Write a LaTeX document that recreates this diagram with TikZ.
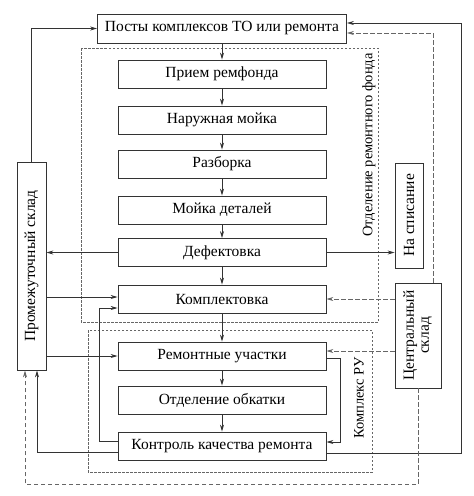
\documentclass[tikz,border=0pt]{standalone}
\usepackage{fontspec}
\setmainfont{Liberation Serif}
\usetikzlibrary{calc,arrows.meta}

\begin{document}
\begin{tikzpicture}[x=1pt,y=-1pt,font=\fontsize{15.5}{17}\selectfont,line width=0.8pt]
\tikzset{
% boxes of the repair flow and side boxes
stage/.style={draw=black!80,minimum width=208pt,minimum height=28pt,inner sep=0pt},
sidebox/.style={draw=black!80,inner sep=0pt},
zone/.style={draw=black!60,dash pattern=on 2.5pt off 1.5pt},
flow/.style={draw=black!80,-{Stealth[length=7pt,width=4pt]}},
dflow/.style={draw=black!60,dash pattern=on 4.5pt off 2.5pt,-{Stealth[length=7pt,width=4pt]}}
}
\useasboundingbox (0,0) rectangle (474,496);

% dashed departments
\draw[zone] (81,48) rectangle (378,322);
\draw[zone] (88,330) rectangle (372,472);
\node(zf)[rotate=90,font=\fontsize{14.5}{16}\selectfont] at (369,145) {Отделение ремонтного фонда};
\node(zr)[rotate=90,font=\fontsize{14.5}{16}\selectfont] at (359,398) {Комплекс РУ};

% the main chain
\node(top)[stage,minimum width=249pt,minimum height=29pt] at (222,28.5) {Посты комплексов ТО или ремонта};
\node(priem)[stage] at (222,74) {Прием ремфонда};
\node(moika)[stage] at (222,120) {Наружная мойка};
\node(razb)[stage] at (222,164) {Разборка};
\node(det)[stage] at (222,210) {Мойка деталей};
\node(defekt)[stage] at (222,252.5) {Дефектовка};
\node(kompl)[stage] at (222,299) {Комплектовка};
\node(remont)[stage] at (222,356) {Ремонтные участки};
\node(obk)[stage] at (222,400) {Отделение обкатки};
\node(kontrol)[stage] at (222,446) {Контроль качества ремонта};

% side boxes
\node(sklad)[sidebox,minimum width=29pt,minimum height=208pt] at (31.5,266) {\rotatebox{90}{Промежуточный склад}};
\node(spis)[sidebox,minimum width=28pt,minimum height=105pt] at (409,215.5) {\rotatebox{90}{На списание}};
\node(central)[sidebox,minimum width=46pt,minimum height=105pt] at (418,335.5) {\rotatebox{90}{\begin{tabular}{@{}c@{}}Центральный\\[-2pt]склад\end{tabular}}};

% arrows down the chain
\foreach \a/\b in {top/priem,priem/moika,moika/razb,razb/det,det/defekt,defekt/kompl,kompl/remont,remont/obk,obk/kontrol}
\draw[flow] (\a) -- (\b);

% solid links
\draw[flow] (defekt.west) -- (defekt.west -| sklad.east);
\draw[flow] (defekt.east) -- (defekt.east -| spis.west);
\draw[flow] ([yshift=2pt]kompl.west -| sklad.east) -- ([yshift=2pt]kompl.west);
\draw[flow] (remont.west -| sklad.east) -- (remont.west);
\draw[flow] (sklad.north) |- (top.west);
\draw[flow] ([yshift=-6pt]kontrol.west) -| ([xshift=5.5pt]sklad.south);
\draw[flow] ([yshift=5pt]kontrol.west) -- ++(-18,0) |- ([yshift=-9pt]kompl.west);
\draw[flow] ([yshift=-2pt]remont.east) -- ++(14,0) |- ([yshift=4pt]kontrol.east);
\draw[flow] ([yshift=-7pt]kontrol.east) -- ++(135,0) |- ([yshift=5.5pt]top.east);

% dashed links from the central store
\draw[dflow] ([xshift=15pt]central.north) |- ([yshift=-4.5pt]top.east);
\draw[dflow] (kompl.east -| central.west) -- (kompl.east);
\draw[dflow] ([yshift=5pt]remont.east -| central.west) -- ([yshift=5pt]remont.east);
\draw[dflow] (central.south) -- ++(0,96) -| ([xshift=-6.5pt]sklad.south);
\end{tikzpicture}
\end{document}
